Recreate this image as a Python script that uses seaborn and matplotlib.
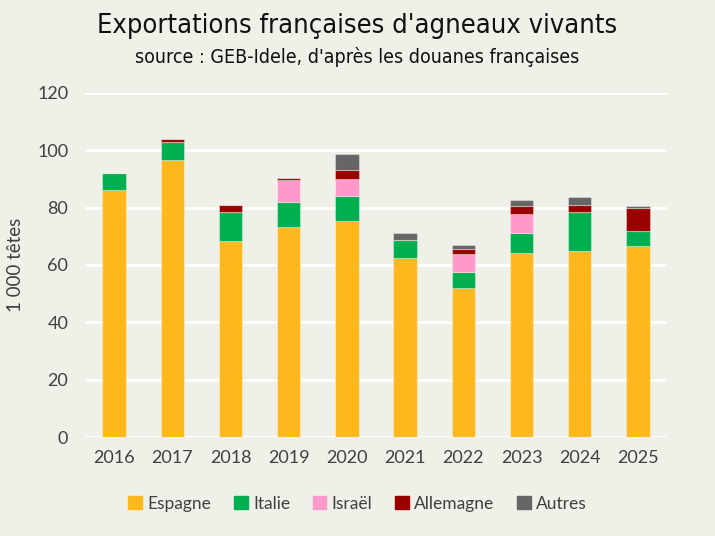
import matplotlib
matplotlib.use("Agg")
import matplotlib.pyplot as plt
import matplotlib.patches as mpatches
import seaborn as sns
import numpy as np

# values in 1 000 heads
years = ["2016", "2017", "2018", "2019", "2020", "2021", "2022", "2023", "2024", "2025"]
espagne = [86.3, 96.7, 68.5, 73.2, 75.2, 62.5, 51.9, 64.2, 65.0, 66.7]
italie = [5.8, 6.3, 10.1, 8.7, 9.0, 6.3, 5.8, 6.9, 13.4, 5.0]
israel = [0.0, 0.0, 0.0, 7.8, 5.8, 0.0, 6.1, 6.7, 0.0, 0.0]
allemagne = [0.0, 0.8, 2.4, 0.5, 3.2, 0.0, 1.7, 2.7, 2.6, 8.3]
autres = [0.0, 0.3, 0.0, 0.0, 5.6, 2.3, 1.6, 2.3, 2.6, 0.6]

series = ["Espagne", "Italie", "Israël", "Allemagne", "Autres"]
colors = ["#FDB81E", "#00B050", "#FF99CC", "#9B0000", "#666666"]

bg = "#EFF0E8"
sns.set_theme(style="white", rc={"axes.facecolor": bg, "figure.facecolor": bg})
plt.rcParams["font.family"] = ["Lato", "DejaVu Sans"]

fig = plt.figure(figsize=(7.15, 5.36), dpi=100)
ax = fig.add_axes([0.1189, 0.1847, 0.8140, 0.6418])

bottom = np.zeros(len(years))
for name, vals, col in zip(series, [espagne, italie, israel, allemagne, autres], colors):
    sns.barplot(x=years, y=vals, bottom=bottom, color=col, width=0.4,
                saturation=1, edgecolor=(1, 1, 1, 0.35), linewidth=0.8, ax=ax, zorder=3)
    bottom = bottom + np.array(vals)

ax.set_ylim(0, 120)
ax.set_xlim(-0.5, 9.5)
ax.set_yticks(range(0, 121, 20))
ax.yaxis.grid(True, color="white", linewidth=2, zorder=0)
ax.set_axisbelow(True)
for s in ax.spines.values():
    s.set_visible(False)
ax.tick_params(axis="both", length=0, labelsize=13, colors="#404040")
ax.tick_params(axis="y", pad=12)
ax.tick_params(axis="x", pad=9)
ax.set_xlabel("")
ax.set_ylabel("1 000 têtes", fontsize=13.5, color="#404040")
ax.yaxis.set_label_coords(-0.105, 0.5)

fig.text(0.5, 0.952, "Exportations françaises d'agneaux vivants",
         ha="center", va="center", fontsize=19.5, color="#111111",
         family="DejaVu Sans", fontstretch="condensed")
fig.text(0.5, 0.893, "source : GEB-Idele, d'après les douanes françaises",
         ha="center", va="center", fontsize=14, color="#111111",
         family="DejaVu Sans", fontstretch="condensed")

handles = [mpatches.Patch(color=c, label=n) for n, c in zip(series, colors)]
fig.legend(handles=handles, loc="center", bbox_to_anchor=(0.5, 0.06), ncol=5,
           frameon=False, fontsize=12.5, handlelength=0.8, handleheight=0.8,
           handletextpad=0.3, columnspacing=1.3, labelcolor="#404040")

fig.savefig("out.png", dpi=100, facecolor=bg)
